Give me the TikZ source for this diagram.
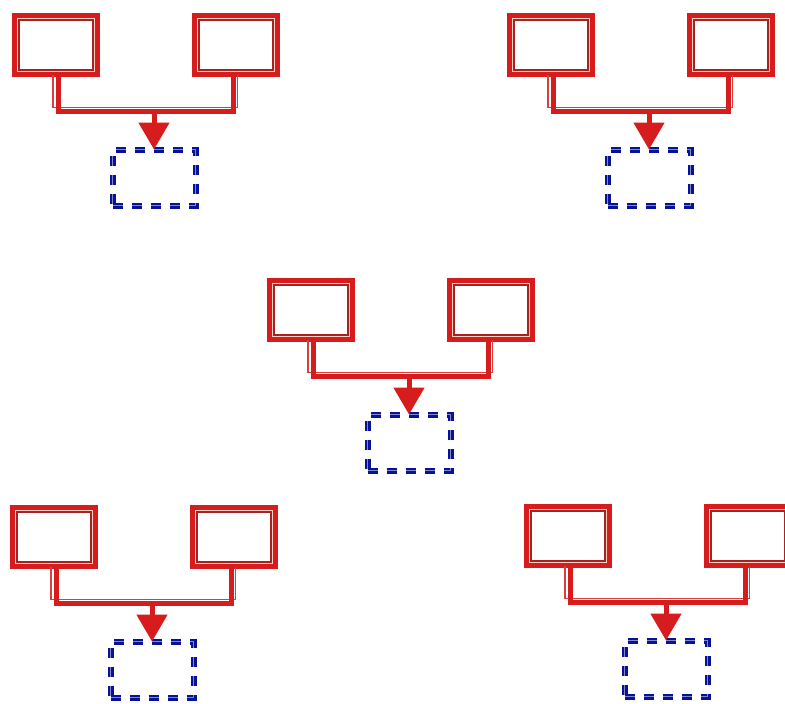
\documentclass[tikz,border=0pt]{standalone}
\usetikzlibrary{arrows.meta,calc}
\definecolor{fr}{RGB}{214,28,28}
\definecolor{frdark}{RGB}{168,34,34}
\definecolor{frpale}{RGB}{248,212,196}
\definecolor{db}{RGB}{8,18,150}
\tikzset{
  framebox/.style={draw=fr, line width=5pt, fill=white, minimum width=83pt,
    minimum height=59pt, inner sep=0pt, outer sep=0pt,
    path picture={
      \draw[frpale, line width=1pt]
        ([shift={(3pt,3pt)}]path picture bounding box.south west) rectangle
        ([shift={(-3pt,-3pt)}]path picture bounding box.north east);
      \draw[frdark, line width=2pt]
        ([shift={(4.5pt,4.5pt)}]path picture bounding box.south west) rectangle
        ([shift={(-4.5pt,-4.5pt)}]path picture bounding box.north east);
    }},
  dashbox/.style={draw=db, line width=6pt, dash pattern=on 10pt off 9pt,
    minimum width=83pt, minimum height=56pt, inner sep=0pt, outer sep=0pt,
    postaction={draw=db!50!white, line width=0.6pt, dash pattern=on 10pt off 9pt}},
  link/.style={draw=fr, line width=5pt, line join=miter},
  linkthin/.style={draw=fr!85!white, line width=1.4pt, line join=miter},
  flow/.style={draw=fr, line width=5pt, -{Triangle[width=30pt,length=27pt]}}
}
\newcommand\drawmodule[3]{%
  \node[framebox] (#1L) at (#2+44,#3+32) {};
  \node[framebox] (#1R) at (#2+224,#3+32) {};
  \node[dashbox] (#1T) at (#2+142,#3+164.5) {};
  \coordinate (#1bar) at (#2+142,#3+98.5);
  \draw[linkthin] ([xshift=-3pt]#1L.south) |- ([yshift=4pt]#1bar) -| ([xshift=1.5pt]#1R.south);
  \draw[link] ([xshift=2pt]#1L.south) |- (#1bar) -| ([xshift=-3pt]#1R.south);
  \draw[flow] (#1bar) -- (#1T.north);
}
\begin{document}
\begin{tikzpicture}[x=1pt,y=-1pt]
  \useasboundingbox (0,0) rectangle (785,704);
  \fill[white] (0,0) rectangle (785,704);
  \drawmodule{a}{12}{13}
  \drawmodule{b}{507}{13}
  \drawmodule{c}{267}{278}
  \drawmodule{d}{10}{505}
  \drawmodule{e}{524}{504}
\end{tikzpicture}
\end{document}
